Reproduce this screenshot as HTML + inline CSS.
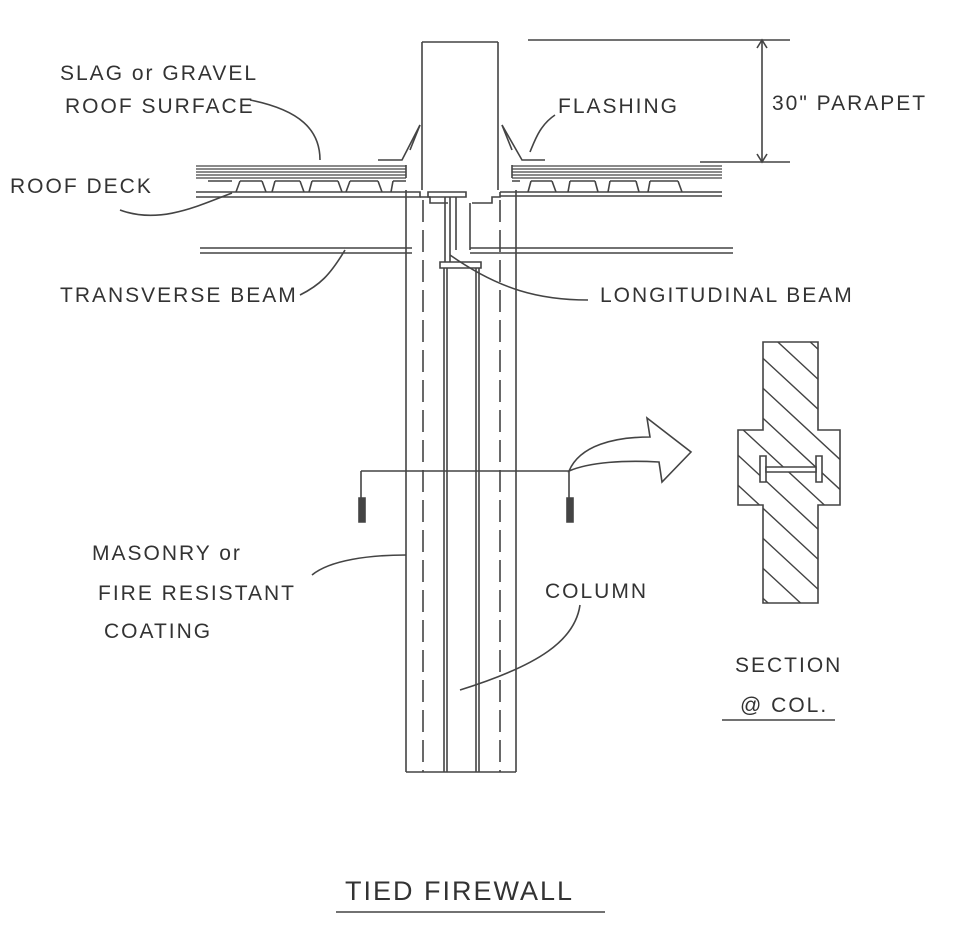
<!DOCTYPE html>
<html><head><style>
body{margin:0;background:#fff}
svg{display:block}
text{font-family:"Liberation Sans",sans-serif;fill:#333;font-size:21px;letter-spacing:2px}
</style></head><body>
<svg width="962" height="926" viewBox="0 0 962 926" fill="none" stroke="#444" stroke-width="1.6">
<defs>
<clipPath id="sc"><path d="M763 342H818V430H840V505H818V603H763V505H738V430H763Z"/></clipPath>
</defs>
<path d="M422 42H498M422 42V190M498 42V190"/>
<path d="M528 40H790M700 162H790M762 40V162"/>
<path d="M757 48L762 40L767 48M757 154L762 162L767 154"/>
<path d="M378 160H402L420 125M545 160H522L502 125"/>
<path d="M410 150L420 125M512 150L502 125"/>
<path d="M196 166H406M196 169H406M196 172H406M196 175H406M196 178H406" stroke-width="1.2"/>
<path d="M406 165V178M512 165V178"/>
<path d="M512 166H722M512 169H722M512 172H722M512 175H722M512 178H722" stroke-width="1.2"/>
<!-- deck trapezoids -->
<path d="M208 181H232M240 181H262M275 181H300M312 181H338M350 181H378M393 181H406"/>
<path d="M240 181L236 192M262 181L266 192M275 181L272 192M300 181L304 192M312 181L309 192M338 181L342 192M350 181L346 192M378 181L382 192M393 181L391 192"/>
<path d="M512 181H520M531 181H552M570 181H595M610 181H636M650 181H678"/>
<path d="M531 181L528 192M552 181L556 192M570 181L568 192M595 181L598 192M610 181L608 192M636 181L639 192M650 181L648 192M678 181L682 192"/>
<path d="M196 192H420L420 197H196M500 192H722M500 196H722"/>
<path d="M420 197H430V203H448M500 192V197H492V203H472"/>
<path d="M428 192H466V197H428Z"/>
<path d="M445 197V262M450 197V262M456 197V250"/>
<path d="M470 203V250"/>
<path d="M200 248H412M200 253H412M470 248H733M470 253H733"/>
<path d="M406 190V772M516 190V772"/>
<path d="M406 772H516"/>
<path d="M423 200V772M500 200V772" stroke-dasharray="22 8"/>
<path d="M440 262H481V268H440ZM444 268V772M447 268V772M476 268V772M479 268V772"/>
<path d="M361 471H569M361 471V505M569 471V505"/>
<path d="M359 498H365V522H359ZM567 498H573V522H567Z" fill="#444"/>
<path d="M569 471C580 445 615 437 650 437L647 418L691 452L662 482L659 462C625 460 590 462 569 471Z"/>
<path d="M763 342H818V430H840V505H818V603H763V505H738V430H763Z"/>
<g clip-path="url(#sc)" stroke-width="1.4">
<path d="M700 300l200 185M700 330l200 185M700 360l200 185M700 390l200 185M700 420l200 185M700 450l200 185M700 480l200 185M700 510l200 185M700 540l200 185M700 270l200 185M700 240l200 185M700 210l200 185"/>
</g>
<path d="M760 456H766V482H760ZM816 456H822V482H816Z" fill="#fff"/>
<path d="M766 467H816V472H766Z" fill="#fff"/>
<path d="M250 100C300 110 320 130 320 160"/>
<path d="M555 115C540 125 535 140 530 152"/>
<path d="M120 210C160 225 200 205 232 193"/>
<path d="M300 295C320 285 330 275 345 250"/>
<path d="M588 300C540 300 500 290 450 255"/>
<path d="M312 575C330 560 370 555 406 555"/>
<path d="M580 605C575 640 540 665 460 690"/>
<path d="M336 912H605M722 720H835"/>
</svg>
<svg width="962" height="926" style="position:absolute;left:0;top:0">
<text x="60" y="80">SLAG or GRAVEL</text>
<text x="65" y="113">ROOF SURFACE</text>
<text x="10" y="193">ROOF DECK</text>
<text x="558" y="113">FLASHING</text>
<text x="772" y="110">30" PARAPET</text>
<text x="60" y="302">TRANSVERSE BEAM</text>
<text x="600" y="302">LONGITUDINAL BEAM</text>
<text x="92" y="560">MASONRY or</text>
<text x="98" y="600">FIRE RESISTANT</text>
<text x="104" y="638">COATING</text>
<text x="545" y="598">COLUMN</text>
<text x="735" y="672">SECTION</text>
<text x="740" y="712">@ COL.</text>
<text x="345" y="900" style="font-size:27px">TIED FIREWALL</text>
</svg>
</body></html>
